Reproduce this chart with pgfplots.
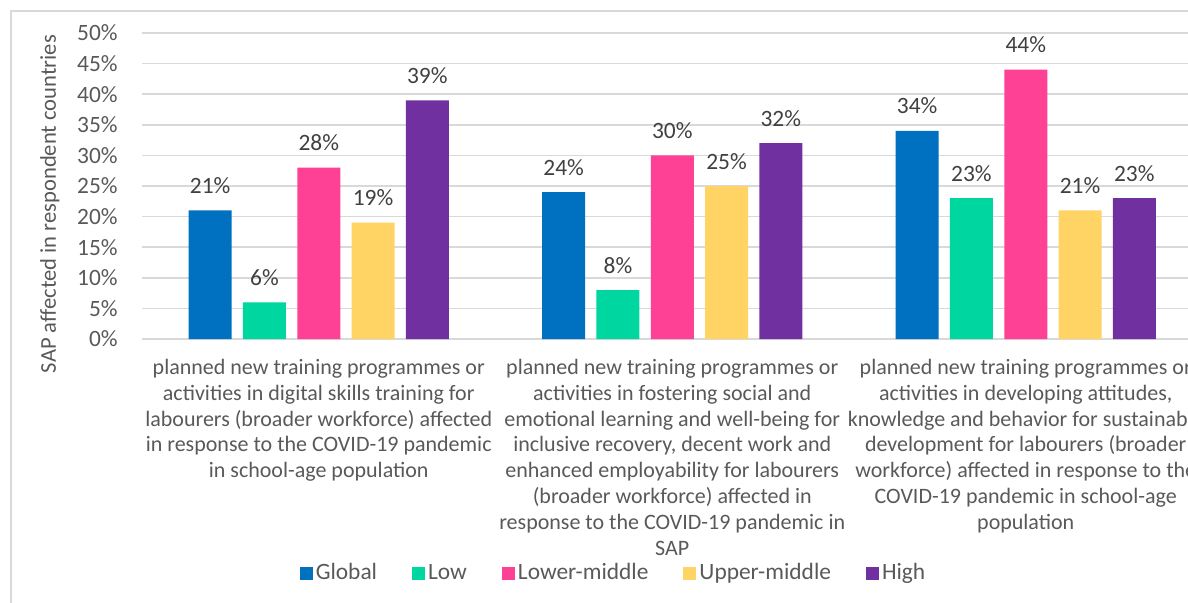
\documentclass[border=0pt]{standalone}
\usepackage{pgfplots}
\pgfplotsset{compat=1.18}
\usepackage{fontspec}
\setmainfont{Carlito}

\definecolor{cGlobal}{HTML}{0070C0}
\definecolor{cLow}{HTML}{00D6A0}
\definecolor{cLowMid}{HTML}{FF4196}
\definecolor{cUpMid}{HTML}{FFD464}
\definecolor{cHigh}{HTML}{7030A0}
\definecolor{txt}{HTML}{595959}
\definecolor{lbl}{HTML}{404040}
\definecolor{gridc}{HTML}{D9D9D9}

\newcommand{\chfont}{\fontsize{11.7}{13.05}\selectfont}
\newcommand{\catfont}{\fontsize{11}{12.93}\selectfont}

\begin{document}
\begin{tikzpicture}
\useasboundingbox (0,0) rectangle (594pt,301pt);
\clip (0,0) rectangle (594pt,301pt);
\draw[line width=1pt, gridc] (5.5pt,-10pt) |- (650pt,295.5pt);
\begin{axis}[
    at={(71pt,131.5pt)}, anchor=south west,
    scale only axis,
    width=530.25pt, height=153pt,
    ybar=5.65pt, bar width=21.5pt,
    xmin=-0.5, xmax=2.5, ymin=0, ymax=50,
    enlargelimits=false,
    axis x line*=bottom, axis y line*=left,
    x axis line style={gridc, line width=0.75pt},
    y axis line style={draw=none},
    major tick length=0pt,
    ymajorgrids,
    major grid style={gridc, line width=0.75pt},
    xtick={0,1,2},
    xticklabels={
        {planned new training programmes or\\activities in digital skills training for\\labourers (broader workforce) affected\\in response to the COVID-19 pandemic\\in school-age population},
        {planned new training programmes or\\activities in fostering social and\\emotional learning and well-being for\\inclusive recovery, decent work and\\enhanced employability for labourers\\(broader workforce) affected in\\response to the COVID-19 pandemic in\\SAP},
        {planned new training programmes or\\activities in developing attitudes,\\knowledge and behavior for sustainable\\development for labourers (broader\\workforce) affected in response to the\\COVID-19 pandemic in school-age\\population}},
    xticklabel style={align=center, anchor=north, inner sep=0pt, yshift=-9.8pt, font=\catfont, text=txt},
    ytick={0,5,...,50},
    yticklabel={\pgfmathprintnumber{\tick}\%},
    yticklabel style={anchor=east, inner sep=0pt, xshift=-12pt, font=\chfont, text=txt},
    /pgf/number format/assume math mode=true,
    ylabel={SAP affected in respondent countries},
    ylabel style={at={(axis description cs:-0.0868,0.441)}, anchor=center, rotate=0, font=\fontsize{11.3}{13}\selectfont, text=txt},
    nodes near coords={\pgfmathprintnumber{\pgfplotspointmeta}\%},
    nodes near coords style={anchor=base, yshift=8.5pt, inner sep=0pt, font=\chfont, text=lbl},
    legend columns=5,
    legend style={draw=none, fill=none, at={(0.445,-0.765)}, anchor=center,
        font=\chfont, text=txt, nodes={inner sep=1.5pt},
        /tikz/every even column/.append style={column sep=15.9pt}},
    legend image code/.code={\path[#1, draw=none] (0pt,-3.3pt) rectangle (6.6pt,3.3pt);},
]
\addplot[fill=cGlobal, draw=none] coordinates {(0,21) (1,24) (2,34)};
\addlegendentry{Global}
\addplot[fill=cLow, draw=none] coordinates {(0,6) (1,8) (2,23)};
\addlegendentry{Low}
\addplot[fill=cLowMid, draw=none] coordinates {(0,28) (1,30) (2,44)};
\addlegendentry{Lower-middle}
\addplot[fill=cUpMid, draw=none] coordinates {(0,19) (1,25) (2,21)};
\addlegendentry{Upper-middle}
\addplot[fill=cHigh, draw=none] coordinates {(0,39) (1,32) (2,23)};
\addlegendentry{High}
\end{axis}
\end{tikzpicture}
\end{document}
